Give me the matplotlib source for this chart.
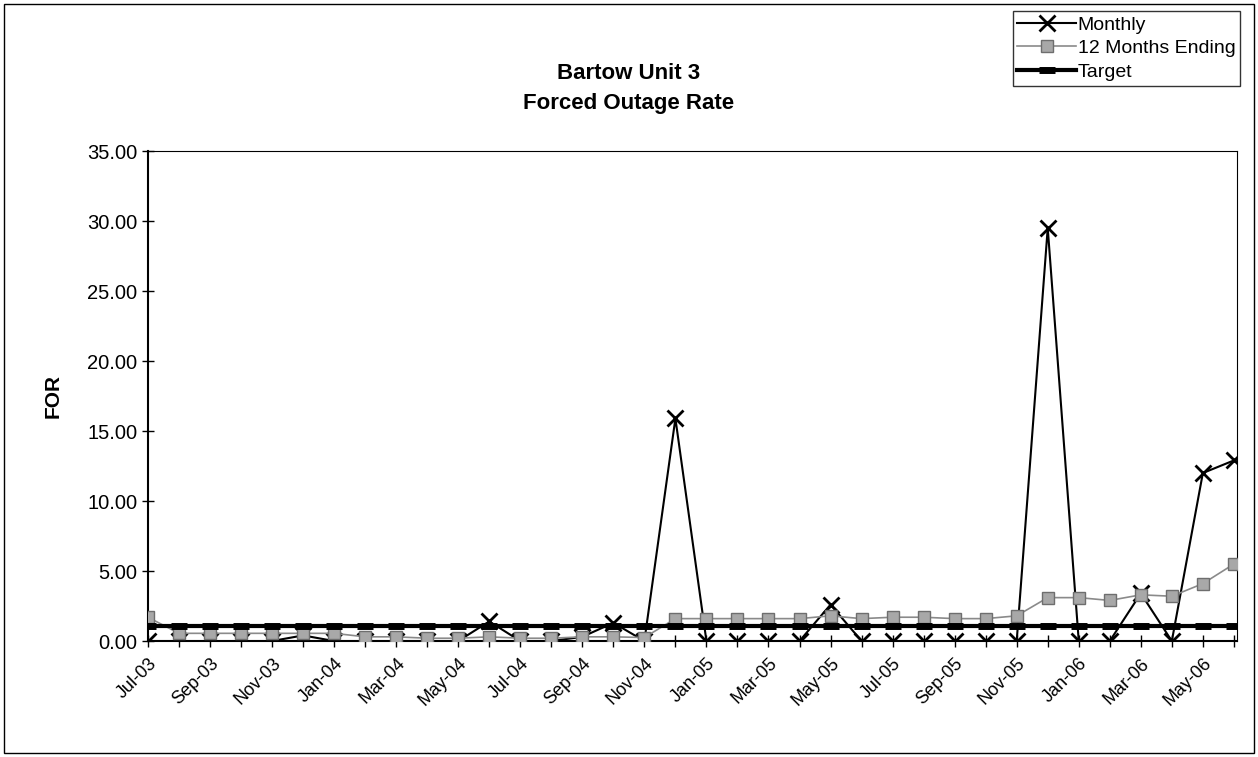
import matplotlib.pyplot as plt
from matplotlib.patches import Rectangle

plt.rcParams['font.family'] = ['Liberation Sans', 'DejaVu Sans']

# Months Jul-03 .. Jun-06
months = ['Jul-03', 'Aug-03', 'Sep-03', 'Oct-03', 'Nov-03', 'Dec-03',
          'Jan-04', 'Feb-04', 'Mar-04', 'Apr-04', 'May-04', 'Jun-04',
          'Jul-04', 'Aug-04', 'Sep-04', 'Oct-04', 'Nov-04', 'Dec-04',
          'Jan-05', 'Feb-05', 'Mar-05', 'Apr-05', 'May-05', 'Jun-05',
          'Jul-05', 'Aug-05', 'Sep-05', 'Oct-05', 'Nov-05', 'Dec-05',
          'Jan-06', 'Feb-06', 'Mar-06', 'Apr-06', 'May-06', 'Jun-06']

monthly = [0.0, 0.0, 0.0, 0.0, 0.0, 0.4,
           0.0, 0.0, 0.0, 0.0, 0.0, 1.4,
           0.0, 0.0, 0.3, 1.3, 0.0, 15.9,
           0.0, 0.0, 0.0, 0.0, 2.6, 0.0,
           0.0, 0.0, 0.0, 0.0, 0.0, 29.5,
           0.0, 0.0, 3.4, 0.0, 12.0, 12.9]

twelve_month = [1.7, 0.55, 0.55, 0.55, 0.55, 0.55,
                0.55, 0.3, 0.3, 0.2, 0.2, 0.3,
                0.2, 0.2, 0.3, 0.3, 0.25, 1.6,
                1.6, 1.6, 1.6, 1.6, 1.8, 1.6,
                1.7, 1.7, 1.6, 1.6, 1.8, 3.1,
                3.1, 2.9, 3.3, 3.2, 4.1, 5.5]

target = [1.1] * len(months)

x = list(range(len(months)))

fig = plt.figure(figsize=(12.58, 7.57), dpi=100)
ax = fig.add_axes([0.1176, 0.1532, 0.8657, 0.6473])

ax.plot(x, monthly, color='black', lw=1.5, marker='x', ms=11, mew=2,
        label='Monthly', zorder=3)
ax.plot(x, twelve_month, color='#8a8a8a', lw=1.2, marker='s', ms=9,
        mfc='#a8a8a8', mec='#6e6e6e', mew=1, label='12 Months Ending', zorder=4)
ax.plot(x, target, color='black', lw=3, marker='_', ms=12, mew=5,
        label='Target', zorder=5)

ax.set_xlim(0, 35.1)
ax.set_ylim(0, 35)
ax.set_yticks([0, 5, 10, 15, 20, 25, 30, 35])
ax.set_yticklabels(['%.2f' % v for v in [0, 5, 10, 15, 20, 25, 30, 35]], fontsize=14.5)
ax.set_xticks(x[::2])
ax.set_xticklabels(months[::2], rotation=45, ha='right', rotation_mode='anchor', fontsize=13)
ax.set_xticks(x, minor=True)
ax.tick_params(axis='both', which='both', direction='inout', length=8, width=1)
ax.tick_params(axis='x', which='major', pad=6)

for s in ['top', 'right']:
    ax.spines[s].set_linewidth(0.8)
for s in ['left', 'bottom']:
    ax.spines[s].set_linewidth(1.5)

ax.set_ylabel('FOR', fontsize=15, fontweight='bold', labelpad=18)

fig.text(0.5, 0.883, 'Bartow Unit 3\nForced Outage Rate', ha='center', va='center',
         fontsize=16, fontweight='bold', linespacing=1.55)

leg = fig.legend(loc='upper right', bbox_to_anchor=(0.986, 0.985), borderaxespad=0,
                 fontsize=14, frameon=True, fancybox=False, edgecolor='black',
                 borderpad=0.25, handlelength=3.0, handletextpad=0.1, labelspacing=0.3)
leg.get_frame().set_linewidth(1)

fig.patches.append(Rectangle((0.003, 0.005), 0.994, 0.99, transform=fig.transFigure,
                             fill=False, edgecolor='black', lw=1))

fig.savefig('out.png', dpi=100)
